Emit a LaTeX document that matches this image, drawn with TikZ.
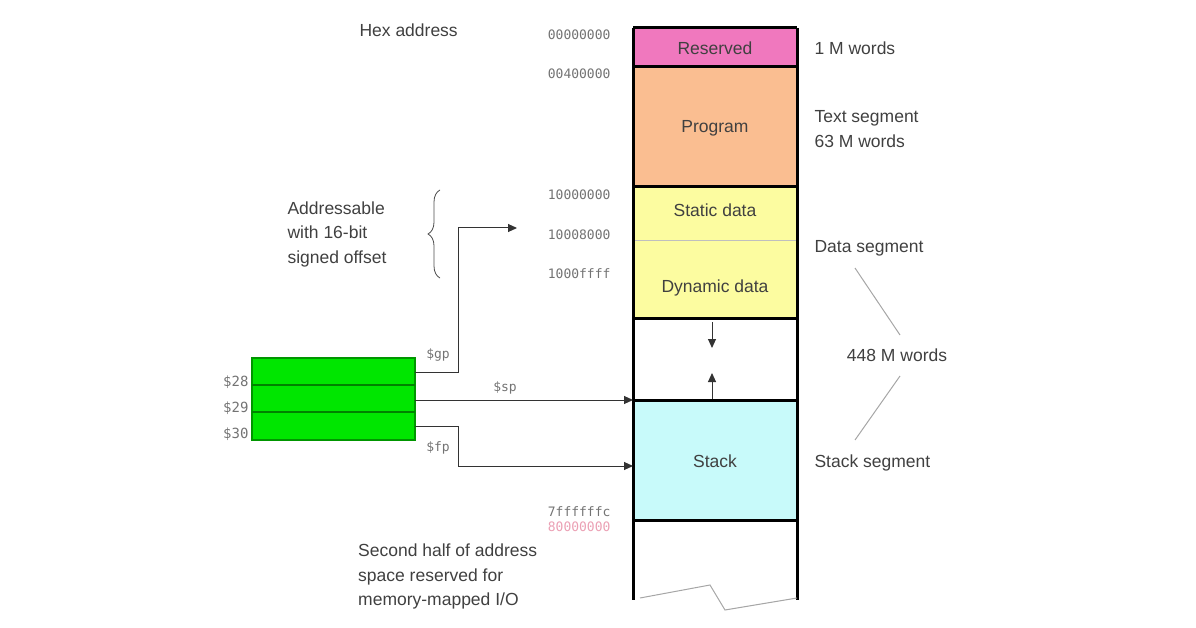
\documentclass[tikz,border=0pt]{standalone}
\usepackage{fontspec}
\setmainfont{Liberation Sans}
\setmonofont{DejaVu Sans Mono}
\usetikzlibrary{decorations.pathreplacing,arrows.meta}
\definecolor{resc}{RGB}{240,120,190}
\definecolor{progc}{RGB}{250,190,145}
\definecolor{datac}{RGB}{252,252,160}
\definecolor{stkc}{RGB}{200,250,250}
\definecolor{regf}{RGB}{0,230,0}
\definecolor{regd}{RGB}{0,150,0}
\definecolor{regl}{RGB}{0,130,0}
\definecolor{pinkt}{RGB}{235,160,180}
\begin{document}
\begin{tikzpicture}[x=1pt,y=-1pt,
  lbl/.style={font=\fontsize{17.5}{24.5}\selectfont,text=black!75},
  addr/.style={font=\ttfamily\fontsize{13}{15}\selectfont,text=black!55,anchor=east},
  seg/.style={draw=black,line width=3pt},
  conn/.style={draw=black!80,line width=1pt,-{Triangle[length=9pt,width=8pt]}},
  gl/.style={draw=black!35,line width=1pt}]
\useasboundingbox (0,0) rectangle (1196,628);
% segments
\fill[resc] (633,28) rectangle (797,67);
\fill[progc] (633,67) rectangle (797,187);
\fill[datac] (633,187) rectangle (797,318);
\fill[stkc] (633,400) rectangle (797,520);
\draw[black!25] (633,240) -- (797,240);
\draw[seg] (633,67) -- (797,67) (633,187) -- (797,187) (633,318) -- (797,318) (633,400) -- (797,400) (633,520) -- (797,520) (633,28) -- (797,28);
\draw[seg] (633,28) -- (633,600) (797,28) -- (797,600);
\draw[gl] (640,598) -- (710,585) -- (725,610) -- (797,598);
\node[lbl] (res) at (715,48) {Reserved};
\node[lbl] (prog) at (715,128) {Program};
\node[lbl] (sd) at (715,210) {Static data};
\node[lbl] (dd) at (715,288) {Dynamic data};
\node[lbl] (stk) at (715,461) {Stack};
\coordinate (d1) at (712,322); \coordinate (d2) at (712,348);
\coordinate (u1) at (712,399); \coordinate (u2) at (712,373);
\draw[conn] (d1) -- (d2);
\draw[conn] (u1) -- (u2);
% addresses
\node[lbl,anchor=west] (hex) at (356,30) {Hex address};
\node[addr] (a0) at (614,35) {00000000};
\node[addr] (a1) at (614,74) {00400000};
\node[addr] (a2) at (614,195) {10000000};
\node[addr] (a3) at (614,235) {10008000};
\node[addr] (a4) at (614,274) {1000ffff};
\node[addr] (a5) at (614,512) {7ffffffc};
\node[addr,text=pinkt] (a6) at (614,527) {80000000};
% right labels
\node[lbl,anchor=west] (r1) at (811,48) {1 M words};
\node[lbl,anchor=west,align=left] (r2) at (811,129) {Text segment\\63 M words};
\node[lbl,anchor=west] (r3) at (811,248) {Data segment};
\node[lbl] (r4) at (897,355) {448 M words};
\node[lbl,anchor=west] (r5) at (811,463) {Stack segment};
\draw[gl] (855,268) -- (900,335);
\draw[gl] (900,376) -- (855,440);
% brace and text
\draw[black!70,line width=0.8pt,decorate,decoration={brace,amplitude=12pt}] (440,278) -- (440,190);
\node[lbl,align=left] (adr) at (337,234) {Addressable\\with 16-bit\\signed offset};
% registers
\draw[fill=regf,draw=regd,line width=1.5pt] (252,358) rectangle (415,440);
\draw[regl,line width=1.5pt] (252,385) -- (415,385) (252,412) -- (415,412);
\node[addr,font=\ttfamily\fontsize{14}{16}\selectfont] (g28) at (252,382) {\$28};
\node[addr,font=\ttfamily\fontsize{14}{16}\selectfont] (g29) at (252,408) {\$29};
\node[addr,font=\ttfamily\fontsize{14}{16}\selectfont] (g30) at (252,434) {\$30};
\coordinate (gpo) at (415,372); \coordinate (gpt) at (517,228);
\coordinate (spo) at (415,400); \coordinate (spt) at (633,400);
\coordinate (fpo) at (415,426); \coordinate (fpt) at (633,466);
\draw[conn] (gpo) -- (458,372) -- (458,228) -- (gpt);
\draw[conn] (spo) -- (spt);
\draw[conn] (fpo) -- (458,426) -- (458,466) -- (fpt);
\node[addr,anchor=center] (lgp) at (438,355) {\$gp};
\node[addr,anchor=center] (lsp) at (505,388) {\$sp};
\node[addr,anchor=center] (lfp) at (438,448) {\$fp};
% bottom text
\node[lbl,anchor=north west,align=left,inner sep=0pt] (half) at (358,544) {Second half of address\\space reserved for\\memory-mapped I/O};
\end{tikzpicture}
\end{document}
